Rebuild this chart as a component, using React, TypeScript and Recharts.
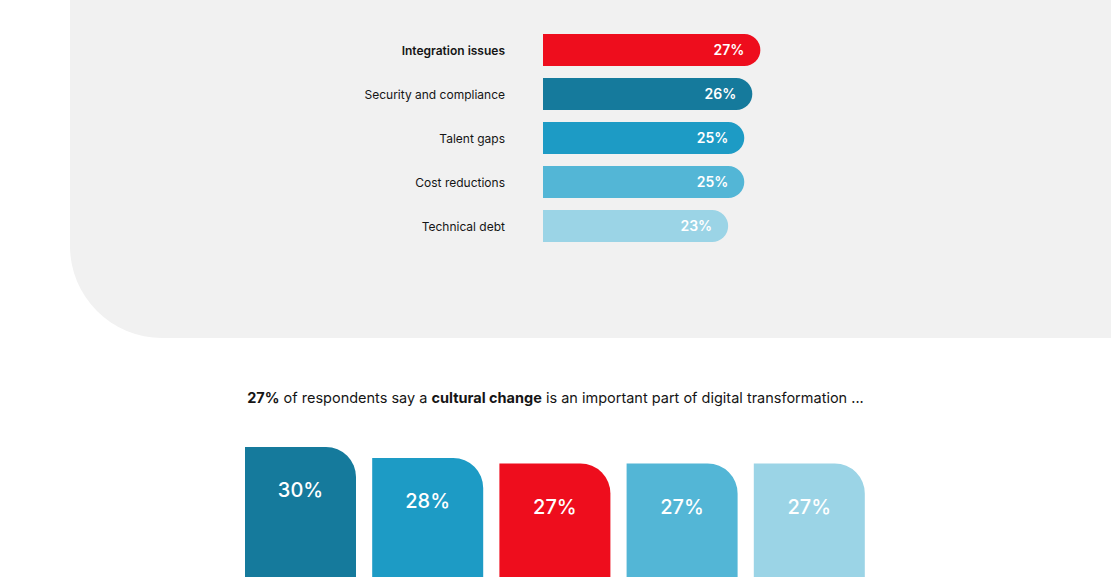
import { Bar, BarChart, Cell, LabelList, XAxis, YAxis } from "recharts";

const FONT = "Inter, 'Noto Sans', sans-serif";

// top chart: challenges
const CHALLENGES = [
  "Integration issues",
  "Security and compliance",
  "Talent gaps",
  "Cost reductions",
  "Technical debt",
];
const CHALLENGE_SHARE = [27, 26, 25, 25, 23];
const CHALLENGE_COLORS = ["#ee0d1d", "#157a9c", "#1d9bc5", "#53b6d6", "#9bd4e6"];

// bottom chart: cultural change (category names are cut off in the source)
const CULTURE_GROUPS = ["Group A", "Group B", "Group C", "Group D", "Group E"];
const CULTURE_SHARE = [30, 28, 27, 27, 27];
const CULTURE_COLORS = ["#157a9c", "#1d9bc5", "#ee0d1d", "#53b6d6", "#9bd4e6"];

const challengeRows = CHALLENGES.map((name, i) => ({ name, value: CHALLENGE_SHARE[i] }));
const cultureRows = CULTURE_GROUPS.map((name, i) => ({ name, value: CULTURE_SHARE[i] }));

function ChallengeTick(props: any) {
  const { x, y, payload } = props;
  const first = payload.value === CHALLENGES[0];
  return (
    <text
      x={x}
      y={y}
      dy="0.45em"
      textAnchor="end"
      fontSize={12}
      fontWeight={first ? 600 : 400}
      fill="#151515"
    >
      {payload.value}
    </text>
  );
}

const pct = (v: any) => `${v}%`;

export default function App() {
  return (
    <div
      style={{
        position: "fixed",
        left: 0,
        top: 0,
        width: 1111,
        height: 577,
        overflow: "hidden",
        background: "#ffffff",
        fontFamily: FONT,
      }}
    >
      <div
        style={{
          position: "absolute",
          left: 70,
          top: -20,
          width: 1060,
          height: 358,
          background: "#f1f1f1",
          borderBottomLeftRadius: 92,
        }}
      />

      <div style={{ position: "absolute", left: 300, top: 28 }}>
        <BarChart
          width={500}
          height={220}
          layout="vertical"
          data={challengeRows}
          margin={{ top: 0, right: 15.5, left: 0, bottom: 0 }}
        >
          <XAxis type="number" domain={[0, 30]} hide />
          <YAxis
            type="category"
            dataKey="name"
            width={243}
            tickLine={false}
            axisLine={false}
            tickSize={0}
            tickMargin={38}
            tick={<ChallengeTick />}
          />
          <Bar dataKey="value" barSize={32} radius={[0, 16, 16, 0]} isAnimationActive={false}>
            {challengeRows.map((_, i) => (
              <Cell key={i} fill={CHALLENGE_COLORS[i]} />
            ))}
            <LabelList
              dataKey="value"
              position="insideRight"
              offset={16}
              formatter={pct}
              fill="#ffffff"
              fontSize={14}
              fontWeight={600}
            />
          </Bar>
        </BarChart>
      </div>

      <div
        style={{
          position: "absolute",
          left: 0,
          top: 388,
          width: 1111,
          textAlign: "center",
          fontSize: 14.5,
          lineHeight: "20px",
          color: "#151515",
        }}
      >
        <b>27%</b> of respondents say a <b>cultural change</b> is an important part of digital
        transformation ...
      </div>

      <div style={{ position: "absolute", left: 236.5, top: 447 }}>
        <BarChart
          width={636}
          height={165}
          data={cultureRows}
          margin={{ top: 0, right: 0, left: 0, bottom: 0 }}
        >
          <XAxis dataKey="name" hide />
          <YAxis domain={[0, 30]} hide />
          <Bar dataKey="value" barSize={111} radius={[0, 30, 0, 0]} isAnimationActive={false}>
            {cultureRows.map((_, i) => (
              <Cell key={i} fill={CULTURE_COLORS[i]} />
            ))}
            <LabelList
              dataKey="value"
              position="insideTop"
              offset={36}
              formatter={pct}
              fill="#ffffff"
              fontSize={20}
              fontWeight={500}
            />
          </Bar>
        </BarChart>
      </div>
    </div>
  );
}
